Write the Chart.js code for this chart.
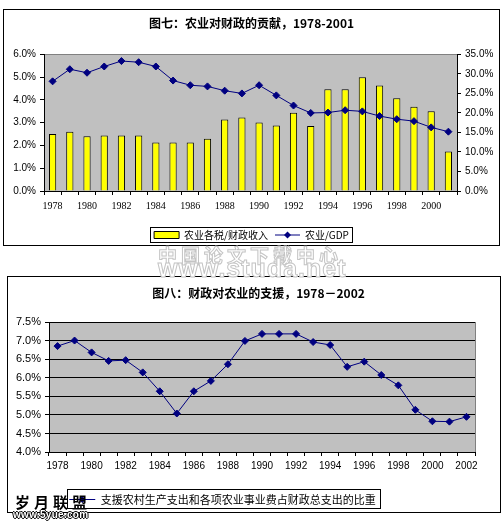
<!DOCTYPE html>
<html>
<head>
<meta charset="utf-8">
<script src="https://cdn.jsdelivr.net/npm/chart.js@4.4.1/dist/chart.umd.min.js"></script>
<style>
body { margin: 0; background: #fff; width: 503px; height: 524px; position: relative; overflow: hidden; }
.frame { position: absolute; border: 1px solid #000; box-sizing: border-box; }
.wrap { position: absolute; }
.wm { position: absolute; white-space: nowrap; font-weight: bold; }
</style>
</head>
<body>
<div class="frame" style="left:3px;top:9px;width:497px;height:237px"></div>
<div class="frame" style="left:7px;top:276px;width:494px;height:237px"></div>
<div class="wrap" style="left:4px;top:11px;width:495px;height:239px"><canvas id="c1"></canvas></div>
<div class="wrap" style="left:8px;top:277px;width:492px;height:238px"><canvas id="c2"></canvas></div>

<div class="wm" style="left:158px;top:241px;font:bold 19px 'Noto Sans CJK SC';letter-spacing:4px;color:#fff;-webkit-text-stroke:1px #c4c4c4">中国论文下载中心</div>
<div class="wm" style="left:158px;top:254px;font:bold 25px 'Liberation Sans';letter-spacing:1px;color:#fff;-webkit-text-stroke:1px #c4c4c4">www.studa.net</div>
<div class="wm" style="left:15px;top:491px;font:bold 15px 'Noto Sans CJK SC';letter-spacing:4px;color:#000">岁月联盟</div>
<div class="wm" style="left:13px;top:509px;font:bold 10px 'Liberation Sans';letter-spacing:0.3px;color:#fff;text-shadow:1px 0 #000,-1px 0 #000,0 1px #000,0 -1px #000">www.5yue.com</div>

<script>
// 图七 data
var years1 = ['1978','1979','1980','1981','1982','1983','1984','1985','1986','1987','1988','1989',
              '1990','1991','1992','1993','1994','1995','1996','1997','1998','1999','2000','2001'];
var taxShare = [2.50, 2.60, 2.40, 2.44, 2.44, 2.44, 2.13, 2.13, 2.13, 2.30, 3.14, 3.23,
                3.01, 2.88, 3.44, 2.86, 4.47, 4.47, 5.00, 4.63, 4.07, 3.70, 3.50, 1.74];
var gdpShare = [28.1, 31.2, 30.3, 31.9, 33.3, 33.0, 31.9, 28.3, 27.1, 26.8, 25.7, 25.0,
                27.1, 24.5, 21.9, 20.0, 20.1, 20.7, 20.4, 19.2, 18.4, 17.9, 16.3, 15.2];

// 图八 data
var years2 = ['1978','1979','1980','1981','1982','1983','1984','1985','1986','1987','1988','1989',
              '1990','1991','1992','1993','1994','1995','1996','1997','1998','1999','2000','2001','2002'];
var supportShare = [6.86, 7.01, 6.69, 6.46, 6.48, 6.15, 5.64, 5.04, 5.64, 5.92, 6.37, 7.00,
                    7.19, 7.19, 7.19, 6.97, 6.89, 6.30, 6.44, 6.08, 5.80, 5.14, 4.83, 4.82, 4.95];

var NAVY = '#000080';
var CJK = '"Noto Sans CJK SC", sans-serif';
var pct = function(v){ return v.toFixed(1) + '%'; };

// grey plot area with thin border
var plotBg = {
  id: 'plotBg',
  beforeDraw: function(chart){
    var a = chart.chartArea, ctx = chart.ctx;
    ctx.save();
    ctx.fillStyle = '#c0c0c0';
    ctx.fillRect(a.left, a.top, a.right - a.left, a.bottom - a.top);
    ctx.strokeStyle = '#808080';
    ctx.lineWidth = 1;
    ctx.strokeRect(Math.round(a.left) + 0.5, Math.round(a.top) + 0.5, Math.round(a.right - a.left), Math.round(a.bottom - a.top));
    ctx.restore();
  }
};

// box round the legend, diamond on the line sample, sideways shifts of title and legend
var legendBox = {
  id: 'legendBox',
  afterLayout: function(chart, args, opts){
    var dx = opts.shift || 0, tx = opts.titleShift || 0;
    chart.legend.left += dx;
    chart.legend.right += dx;
    chart.titleBlock.left += tx;
    chart.titleBlock.right += tx;
  },
  afterDraw: function(chart, args, opts){
    var lg = chart.legend, hb = lg.legendHitBoxes, ctx = chart.ctx;
    if (!hb || !hb.length) return;
    var l = Infinity, r = -Infinity, t = Infinity, b = -Infinity;
    hb.forEach(function(h){
      l = Math.min(l, h.left); r = Math.max(r, h.left + h.width);
      t = Math.min(t, h.top); b = Math.max(b, h.top + h.height);
    });
    ctx.save();
    ctx.strokeStyle = '#000';
    ctx.lineWidth = 1;
    ctx.strokeRect(Math.round(l - opts.padL) + 0.5, Math.round(t - opts.padT) + 0.5,
                   Math.round(r - l + opts.padL + opts.padR), Math.round(b - t + opts.padT + opts.padB));
    var bw = lg.options.labels.pointStyleWidth;
    lg.legendItems.forEach(function(it, i){
      if (it.pointStyle !== 'line') return;
      var cx = hb[i].left + bw / 2, cy = hb[i].top + lg.options.labels.font.size / 2;
      ctx.fillStyle = NAVY;
      ctx.beginPath();
      ctx.moveTo(cx, cy - 3.5); ctx.lineTo(cx + 3.5, cy); ctx.lineTo(cx, cy + 3.5); ctx.lineTo(cx - 3.5, cy);
      ctx.closePath(); ctx.fill();
    });
    ctx.restore();
  }
};

function legendItems(chart){
  var items = Chart.defaults.plugins.legend.labels.generateLabels(chart);
  items.forEach(function(it){
    var ds = chart.data.datasets[it.datasetIndex];
    var type = ds.type || chart.config.type;
    if (type === 'line') { it.pointStyle = 'line'; it.strokeStyle = NAVY; it.lineWidth = 1; }
    else { it.pointStyle = 'rect'; it.fillStyle = '#ffff00'; it.strokeStyle = '#000'; it.lineWidth = 1; }
  });
  return items;
}

new Chart(document.getElementById('c1'), {
  type: 'bar',
  data: {
    labels: years1,
    datasets: [{
      type: 'line',
      label: '农业/GDP',
      data: gdpShare,
      yAxisID: 'y1',
      borderColor: NAVY,
      borderWidth: 1,
      pointStyle: 'rectRot',
      pointRadius: 3.5,
      pointBackgroundColor: NAVY,
      pointBorderColor: NAVY,
      order: 1
    }, {
      type: 'bar',
      label: '农业各税/财政收入',
      data: taxShare,
      yAxisID: 'y',
      backgroundColor: '#ffff00',
      borderColor: '#000',
      borderWidth: 1,
      barPercentage: 0.42,
      categoryPercentage: 1,
      order: 2
    }]
  },
  options: {
    responsive: true,
    maintainAspectRatio: false,
    animation: false,
    plugins: {
      title: {
        display: true,
        text: '图七：农业对财政的贡献，1978-2001',
        color: '#000',
        font: { family: CJK, size: 12, weight: 'bold' },
        padding: { top: 5, bottom: 24 }
      },
      legend: {
        position: 'bottom',
        reverse: true,
        labels: {
          usePointStyle: true,
          pointStyleWidth: 25,
          boxHeight: 7,
          padding: 7,
          color: '#000',
          font: { family: CJK, size: 10 },
          generateLabels: legendItems
        }
      },
      legendBox: { padL: 4, padR: 3, padT: 3, padB: 2, shift: 0, titleShift: 0 },
      tooltip: { enabled: false }
    },
    scales: {
      x: {
        offset: true,
        grid: { display: true, drawOnChartArea: false, offset: true, tickLength: 4, color: '#000' },
        border: { color: '#000' },
        ticks: {
          autoSkip: false, maxRotation: 0, padding: 5, color: '#000',
          font: { family: '"Liberation Serif", serif', size: 10 },
          callback: function(v, i){ return i % 2 === 0 ? years1[i] : ''; }
        },
        afterFit: function(s){ s.height = 32; }
      },
      y: {
        position: 'left', min: 0, max: 6,
        grid: { drawOnChartArea: false, tickLength: 4, color: '#000' },
        border: { color: '#000' },
        ticks: { stepSize: 1, padding: 4, color: '#000', font: { family: '"Liberation Sans"', size: 10 }, callback: pct },
        afterFit: function(s){ s.width = 40; }
      },
      y1: {
        position: 'right', min: 0, max: 35,
        grid: { drawOnChartArea: false, tickLength: 4, color: '#000' },
        border: { color: '#000' },
        ticks: { stepSize: 5, padding: 4, color: '#000', font: { family: '"Liberation Sans"', size: 10 }, callback: pct },
        afterFit: function(s){ s.width = 42; }
      }
    }
  },
  plugins: [plotBg, legendBox]
});

new Chart(document.getElementById('c2'), {
  type: 'line',
  data: {
    labels: years2,
    datasets: [{
      label: '支援农村生产支出和各项农业事业费占财政总支出的比重',
      data: supportShare,
      borderColor: NAVY,
      borderWidth: 1,
      pointStyle: 'rectRot',
      pointRadius: 3.5,
      pointBackgroundColor: NAVY,
      pointBorderColor: NAVY
    }]
  },
  options: {
    responsive: true,
    maintainAspectRatio: false,
    animation: false,
    layout: { padding: { left: 0, right: 25, top: 0, bottom: 0 } },
    plugins: {
      title: {
        display: true,
        text: '图八：财政对农业的支援，1978－2002',
        color: '#000',
        font: { family: CJK, size: 12, weight: 'bold' },
        padding: { top: 9, bottom: 22 }
      },
      legend: {
        position: 'bottom',
        labels: {
          usePointStyle: true,
          pointStyleWidth: 26,
          boxHeight: 7,
          padding: 6,
          color: '#000',
          font: { family: CJK, size: 11 },
          generateLabels: legendItems
        }
      },
      legendBox: { padL: 2, padR: 5, padT: 5, padB: 3, shift: -19, titleShift: 17 },
      tooltip: { enabled: false }
    },
    scales: {
      x: {
        offset: true,
        grid: { display: true, drawOnChartArea: false, offset: true, tickLength: 4, color: '#000' },
        border: { color: '#000' },
        ticks: {
          autoSkip: false, maxRotation: 0, padding: 4, color: '#000',
          font: { family: '"Liberation Sans"', size: 10 },
          callback: function(v, i){ return i % 2 === 0 ? years2[i] : ''; }
        },
        afterFit: function(s){ s.height = 36; }
      },
      y: {
        min: 4, max: 7.5,
        grid: { color: '#000', tickLength: 4 },
        border: { color: '#000' },
        ticks: { stepSize: 0.5, padding: 4, color: '#000', font: { family: '"Liberation Sans"', size: 11 }, callback: pct },
        afterFit: function(s){ s.width = 41; }
      }
    }
  },
  plugins: [plotBg, legendBox]
});
</script>
</body>
</html>
